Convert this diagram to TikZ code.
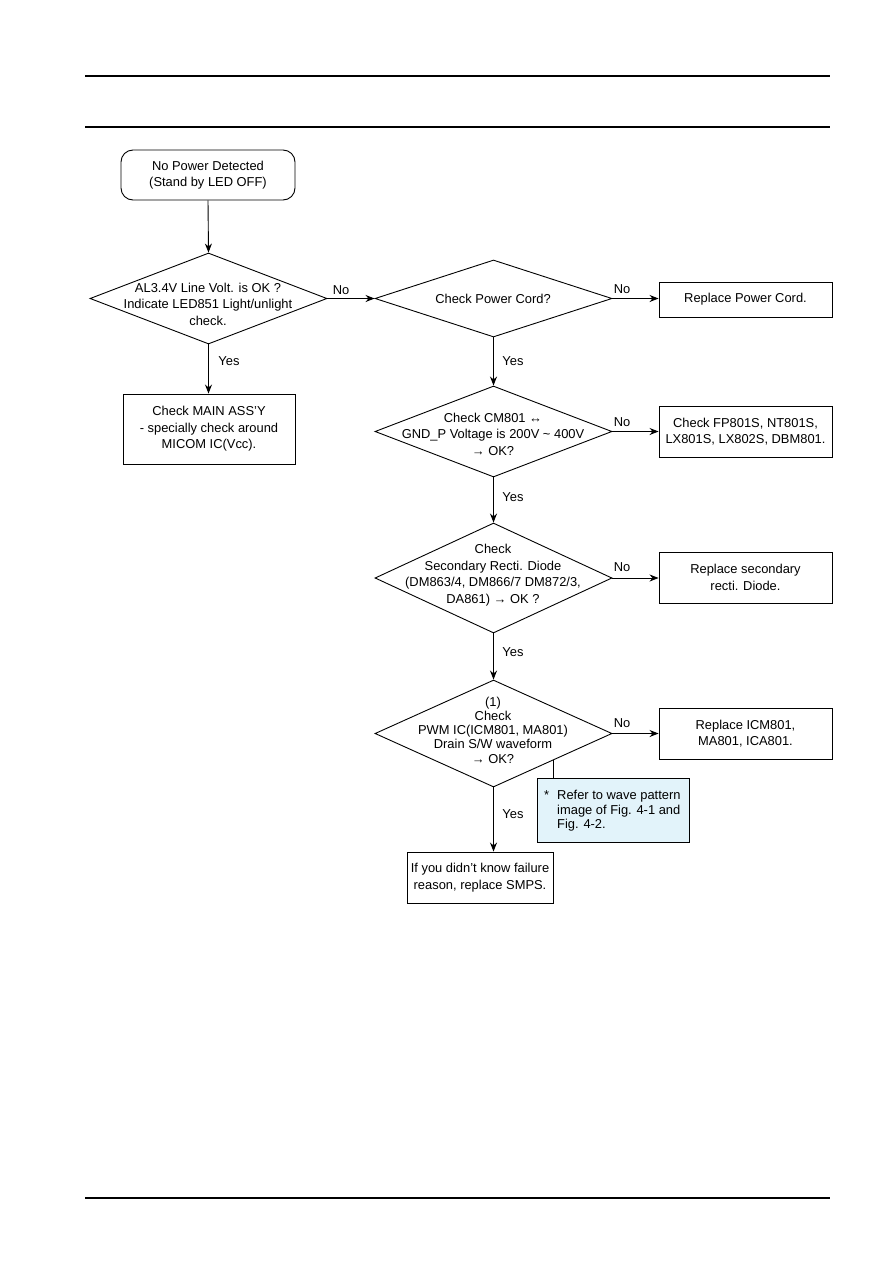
\documentclass[tikz,border=0pt]{standalone}
\usepackage{fontspec}
\setmainfont{Liberation Sans}
\usetikzlibrary{shapes.geometric,arrows.meta}
\definecolor{notefill}{RGB}{226,243,250}
\tikzset{
  every node/.style={font=\fontsize{12.9}{16.5}\selectfont},
  dia/.style={draw, shape=diamond, inner sep=0pt, line width=0.9pt},
  boxn/.style={draw, rectangle, line width=0.9pt, align=center, inner sep=0pt},
  txt/.style={align=center, inner sep=0pt},
  lbl/.style={inner sep=0pt},
  arr/.style={line width=0.9pt, -{Stealth[length=9pt,width=7pt]}},
  rule/.style={line width=1.2pt},
}
\begin{document}
\begin{tikzpicture}[x=1pt,y=-1pt]
\useasboundingbox (0,0) rectangle (893,1263);
% header/footer rules
\coordinate (h1a) at (85,76); \coordinate (h1b) at (830,76);
\coordinate (h2a) at (85,127); \coordinate (h2b) at (830,127);
\coordinate (f1a) at (85,1198); \coordinate (f1b) at (830,1198);
\draw[rule] (h1a) -- (h1b);
\draw[rule] (h2a) -- (h2b);
\draw[rule] (f1a) -- (f1b);

% start
\node[boxn, rounded corners=12pt, minimum width=174pt, minimum height=50pt] (start) at (208,175) {No Power Detected\\(Stand by LED OFF)};

% diamond 1
\node[dia, minimum width=237pt, minimum height=91pt] (d1) at (208.5,298.5) {};
\node[txt] (d1t) at (208,304) {AL3.4V Line Volt. is OK ?\\Indicate LED851 Light/unlight\\check.};

% main box
\node[boxn, minimum width=172pt, minimum height=70pt] (mainb) at (209,429) {Check MAIN ASS'Y\\- specially check around\\MICOM IC(Vcc).};

% diamond 2
\node[dia, minimum width=237pt, minimum height=77pt] (d2) at (493.5,298.5) {};
\node[txt] (d2t) at (493,299) {Check Power Cord?};
\node[boxn, minimum width=173pt, minimum height=35pt] (r2) at (745.5,299.5) {Replace Power Cord.};

% diamond 3
\node[dia, minimum width=237pt, minimum height=91pt] (d3) at (493.5,431.5) {};
\node[txt] (d3t) at (493,434) {Check CM801 ↔\\GND\_P Voltage is 200V \textasciitilde{} 400V\\→ OK?};
\node[boxn, minimum width=173pt, minimum height=51pt] (r3) at (745.5,431.5) {Check FP801S, NT801S,\\LX801S, LX802S, DBM801.};

% diamond 4
\node[dia, minimum width=237pt, minimum height=110pt] (d4) at (493.5,578) {};
\node[txt] (d4t) at (493,575) {Check\\Secondary Recti. Diode\\(DM863/4, DM866/7 DM872/3,\\DA861) → OK ?};
\node[boxn, minimum width=173pt, minimum height=51pt] (r4) at (745.5,577.5) {Replace secondary\\recti. Diode.};

% diamond 5
\node[dia, minimum width=237pt, minimum height=107pt] (d5) at (493.5,733.5) {};
\node[txt, font=\fontsize{12.9}{14.3}\selectfont] (d5t) at (493,730) {(1)\\Check\\PWM IC(ICM801, MA801)\\Drain S/W waveform\\→ OK?};
\node[boxn, minimum width=173pt, minimum height=51pt] (r5) at (745.5,733.5) {Replace ICM801,\\MA801, ICA801.};

% note
\node[draw, fill=notefill, line width=0.9pt, minimum width=152pt, minimum height=64pt, inner sep=0pt] (note) at (613,810) {};
\node[inner sep=0pt, anchor=north west, align=left, font=\fontsize{12.9}{14.7}\selectfont] (notet) at (544,789) {*\hspace{8pt}\begin{tabular}[t]{@{}l@{}}Refer to wave pattern\\image of Fig. 4-1 and\\Fig. 4-2.\end{tabular}};
\coordinate (notetop) at (553,778);
\coordinate (d5edge) at (553,760);
\draw[line width=0.9pt] (notetop) -- (d5edge);

% final box
\node[boxn, minimum width=146pt, minimum height=51pt] (fin) at (480,877.5) {If you didn't know failure\\reason, replace SMPS.};

% connectors
\draw[arr] (start.south) -- (d1.north);
\draw[arr] (d1.south) -- (d1.south |- mainb.north);
\draw[arr] (d1.east) -- (d2.west);
\draw[arr] (d2.east) -- (d2.east -| r2.west);
\draw[arr] (d2.south) -- (d3.north);
\draw[arr] (d3.east) -- (d3.east -| r3.west);
\draw[arr] (d3.south) -- (d4.north);
\draw[arr] (d4.east) -- (d4.east -| r4.west);
\draw[arr] (d4.south) -- (d5.north);
\draw[arr] (d5.east) -- (d5.east -| r5.west);
\draw[arr] (d5.south) -- (d5.south |- fin.north);

% labels
\node[lbl] (l1) at (341,290) {No};
\node[lbl] (l2) at (229,361) {Yes};
\node[lbl] (l3) at (622,289) {No};
\node[lbl] (l4) at (513,361) {Yes};
\node[lbl] (l5) at (622,422) {No};
\node[lbl] (l6) at (513,497) {Yes};
\node[lbl] (l7) at (622,567) {No};
\node[lbl] (l8) at (513,652) {Yes};
\node[lbl] (l9) at (622,723) {No};
\node[lbl] (l10) at (513,814) {Yes};
\end{tikzpicture}
\end{document}
